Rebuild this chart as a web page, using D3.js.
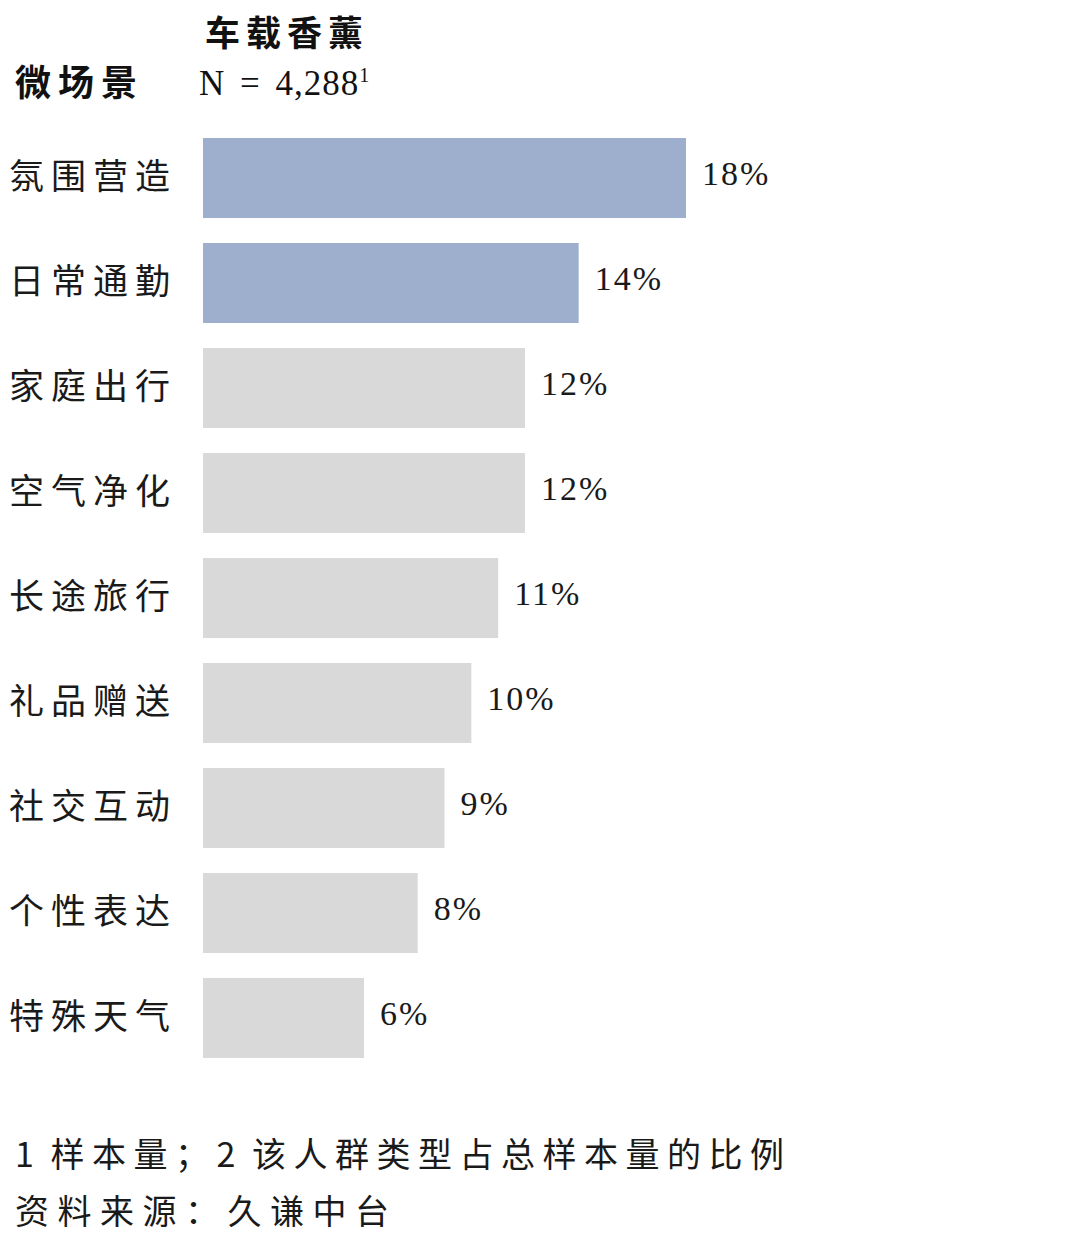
<!DOCTYPE html>
<html>
<head>
<meta charset="utf-8">
<script src="https://cdn.jsdelivr.net/npm/d3@7"></script>
<style>
  body { margin: 0; background: #fff; }
  svg { display: block; }
</style>
</head>
<body>
<svg width="1080" height="1238"></svg>
<script>
const categories = ['氛围营造','日常通勤','家庭出行','空气净化','长途旅行','礼品赠送','社交互动','个性表达','特殊天气']
const values = [18, 14, 12, 12, 11, 10, 9, 8, 6]
const highlighted = ['氛围营造','日常通勤']
const title = '车载香薰'
const rowHeader = '微场景'
const sampleText = 'N = 4,288'
const footnote = '1 样本量；2 该人群类型占总样本量的比例'
const source = '资料来源：久谦中台'

const svg = d3.select('svg')
const width = +svg.attr('width')
const height = +svg.attr('height')

const cjk = '"Noto Sans CJK SC", "Noto Sans CJK JP", sans-serif'
const serif = '"Liberation Serif", "DejaVu Serif", serif'

const data = categories.map((c, i) => ({ cat: c, value: values[i] }))

const margin = { left: 203 }

const xScale = d3.scaleLinear()
    .domain([0, 18])
    .range([0, 483])

const yScale = d3.scaleBand()
    .domain(categories)
    .range([125.5, 1070.5])
    .paddingInner(0.238)
    .paddingOuter(0.119)

const g = svg.append('g')
    .attr('transform', `translate(${margin.left},0)`)

g.selectAll('rect').data(data)
  .enter().append('rect')
    .attr('x', 0)
    .attr('y', d => yScale(d.cat))
    .attr('width', d => xScale(d.value))
    .attr('height', yScale.bandwidth())
    .attr('fill', d => highlighted.includes(d.cat) ? '#9dafcc' : '#d9d9d9')

// value labels
g.selectAll('text.val').data(data)
  .enter().append('text')
    .attr('class', 'val')
    .attr('x', d => xScale(d.value) + 16)
    .attr('y', d => yScale(d.cat) + yScale.bandwidth() / 2)
    .attr('dy', '0.2em')
    .style('font-family', serif)
    .style('font-size', '34px')
    .style('letter-spacing', '2px')
    .attr('fill', '#1a1a1a')
    .text(d => d.value + '%')

// category labels
svg.selectAll('text.cat').data(data)
  .enter().append('text')
    .attr('class', 'cat')
    .attr('x', 9)
    .attr('y', d => yScale(d.cat) + yScale.bandwidth() / 2)
    .attr('dy', '0.3em')
    .style('font-family', cjk)
    .style('font-size', '35px')
    .style('letter-spacing', '7px')
    .attr('fill', '#1a1a1a')
    .text(d => d.cat)

// header
svg.append('text')
    .attr('x', 205)
    .attr('y', 46)
    .style('font-family', cjk)
    .style('font-size', '35px')
    .style('font-weight', 'bold')
    .style('letter-spacing', '6px')
    .attr('fill', '#111')
    .text(title)

svg.append('text')
    .attr('x', 15)
    .attr('y', 96)
    .style('font-family', cjk)
    .style('font-size', '36px')
    .style('font-weight', 'bold')
    .style('letter-spacing', '7px')
    .attr('fill', '#111')
    .text(rowHeader)

const n = svg.append('text')
    .attr('x', 199)
    .attr('y', 95)
    .style('font-family', serif)
    .style('font-size', '35px')
    .style('letter-spacing', '1px')
    .style('word-spacing', '5px')
    .attr('fill', '#111')
    .text(sampleText)
n.append('tspan')
    .attr('dy', -13)
    .style('font-size', '20px')
    .text('1')

// footnotes
svg.append('text')
    .attr('x', 15)
    .attr('y', 1167)
    .style('font-family', cjk)
    .style('font-size', '34px')
    .style('letter-spacing', '7.5px')
    .style('word-spacing', '-6px')
    .attr('fill', '#1a1a1a')
    .text(footnote)

svg.append('text')
    .attr('x', 15)
    .attr('y', 1224)
    .style('font-family', cjk)
    .style('font-size', '34px')
    .style('letter-spacing', '8.5px')
    .attr('fill', '#1a1a1a')
    .text(source)
</script>
</body>
</html>
